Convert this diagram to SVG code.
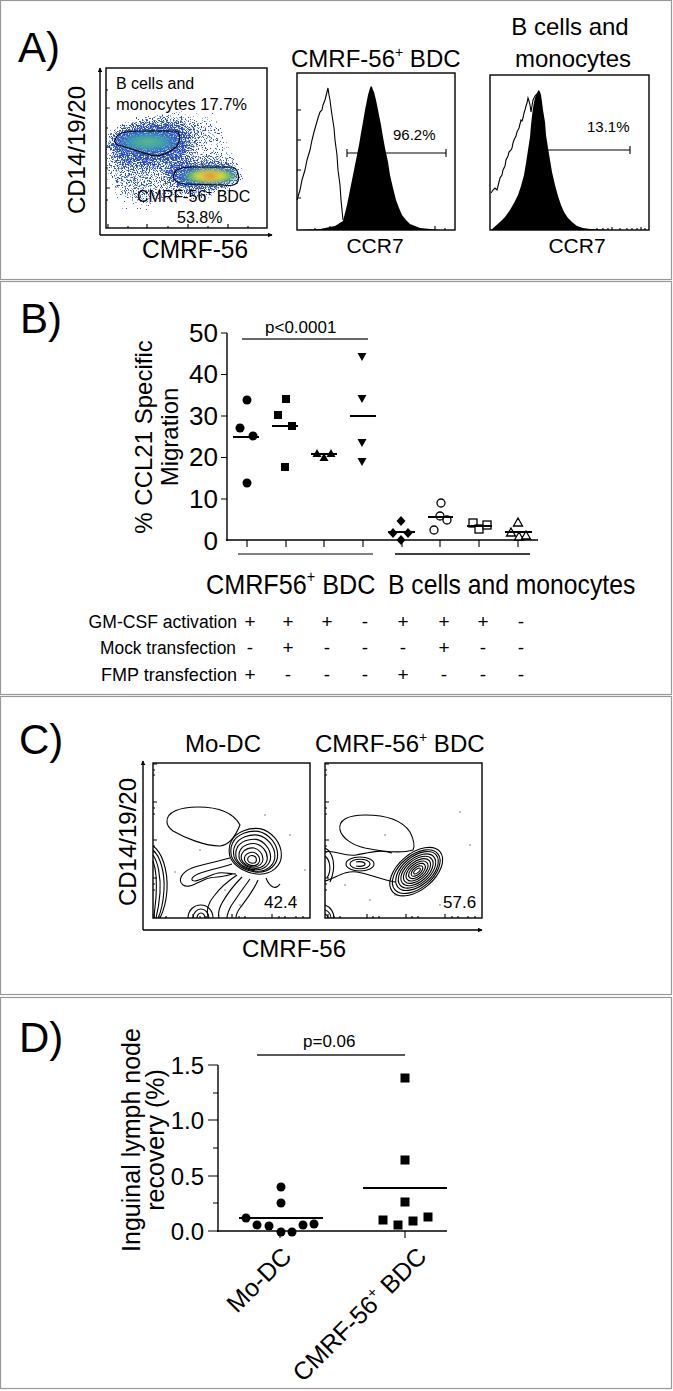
<svg xmlns="http://www.w3.org/2000/svg" width="673" height="1391" viewBox="0 0 673 1391">
<defs>
<style>
text{font-family:"Liberation Sans",Arial,sans-serif;fill:#000}
.panel{fill:#fff;stroke:#999;stroke-width:1.2}
.lbl{font-size:42px}
.ax{stroke:#000;stroke-width:1.4;fill:none}
.tk{stroke:#000;stroke-width:1.1}
.c{fill:none;stroke:#000;stroke-width:1.1}
.mean{stroke:#000;stroke-width:1.8}
.box{fill:none;stroke:#000;stroke-width:1.4}
.dot{fill:#555}
</style>
<marker id="arr" viewBox="0 0 8 8" refX="7" refY="4" markerWidth="5" markerHeight="5" orient="auto" markerUnits="userSpaceOnUse"><path d="M0,0 L8,4 L0,8 Z" fill="#000"/></marker>
<filter id="spk" filterUnits="userSpaceOnUse" x="106" y="68" width="161" height="160">
<feGaussianBlur in="SourceAlpha" stdDeviation="7" result="d"/>
<feTurbulence type="fractalNoise" baseFrequency="0.75" numOctaves="2" seed="7" result="t"/>
<feColorMatrix in="t" type="matrix" values="0 0 0 0 0  0 0 0 0 0  0 0 0 0 0  1 0 0 0 0" result="na"/>
<feComposite in="na" in2="d" operator="arithmetic" k1="0" k2="1" k3="0.65" k4="-0.6" result="cc"/>
<feComponentTransfer in="cc" result="m"><feFuncA type="discrete" tableValues="0 1"/></feComponentTransfer>
<feFlood flood-color="#2f50c0"/>
<feComposite in2="m" operator="in"/>
</filter>
<filter id="spk2" filterUnits="userSpaceOnUse" x="106" y="68" width="161" height="160">
<feGaussianBlur in="SourceAlpha" stdDeviation="7" result="d"/>
<feTurbulence type="fractalNoise" baseFrequency="0.8" numOctaves="2" seed="21" result="t"/>
<feColorMatrix in="t" type="matrix" values="0 0 0 0 0  0 0 0 0 0  0 0 0 0 0  1 0 0 0 0" result="na"/>
<feComposite in="na" in2="d" operator="arithmetic" k1="0" k2="1" k3="0.6" k4="-0.55" result="cc"/>
<feComponentTransfer in="cc" result="m"><feFuncA type="discrete" tableValues="0 1"/></feComponentTransfer>
<feFlood flood-color="#86a4e6"/>
<feComposite in2="m" operator="in"/>
</filter>
<filter id="bl" x="-30%" y="-30%" width="160%" height="160%"><feGaussianBlur stdDeviation="2"/></filter>
<radialGradient id="g1"><stop offset="0" stop-color="#62ba7a"/><stop offset="0.55" stop-color="#3aa0ae"/><stop offset="1" stop-color="#3a6cc8" stop-opacity="0.3"/></radialGradient>
<radialGradient id="g2" cx="0.55"><stop offset="0" stop-color="#e2302a"/><stop offset="0.2" stop-color="#f09a30"/><stop offset="0.4" stop-color="#e8e040"/><stop offset="0.68" stop-color="#58b860"/><stop offset="1" stop-color="#3a7cc8" stop-opacity="0.3"/></radialGradient>
<path id="tri" fill="none" stroke="#000" stroke-width="1.1" vector-effect="non-scaling-stroke" d="M-1,-0.55 C-0.8,-1 -0.2,-1.15 0.2,-1.1 C0.7,-1 1.1,-0.5 1.1,0 C1.1,0.45 0.7,0.8 0.2,0.8 C-0.3,0.8 -0.9,0.5 -1.05,0.05 C-1.1,-0.2 -1.08,-0.4 -1,-0.55 Z"/>
</defs>
<rect width="673" height="1391" fill="#fff"/>
<g id="frames">
<rect class="panel" x="0.5" y="0.5" width="671" height="279"/>
<rect class="panel" x="0.5" y="281.5" width="671" height="413"/>
<rect class="panel" x="0.5" y="696.5" width="671" height="298"/>
<rect class="panel" x="0.5" y="997.5" width="671" height="391"/>
</g>

<!-- PANEL A -->
<g id="panelA">
<text class="lbl" x="18" y="62">A)</text>
<g id="A-scatter">
<g filter="url(#spk2)">
<ellipse cx="148" cy="142" rx="45" ry="25" fill="#000"/>
<ellipse cx="205" cy="176" rx="42" ry="18" fill="#000"/>
<ellipse cx="170" cy="160" rx="70" ry="50" fill="#000" opacity="0.6"/>
<ellipse cx="130" cy="185" rx="30" ry="35" fill="#000" opacity="0.45"/>
<ellipse cx="200" cy="120" rx="40" ry="25" fill="#000" opacity="0.35"/>
</g>
<g filter="url(#spk)">
<ellipse cx="148" cy="142" rx="45" ry="25" fill="#000"/>
<ellipse cx="205" cy="176" rx="42" ry="18" fill="#000"/>
<ellipse cx="170" cy="160" rx="70" ry="50" fill="#000" opacity="0.6"/>
<ellipse cx="130" cy="185" rx="30" ry="35" fill="#000" opacity="0.45"/>
<ellipse cx="200" cy="120" rx="40" ry="25" fill="#000" opacity="0.35"/>
</g>
<ellipse cx="148" cy="142" rx="33" ry="11" fill="url(#g1)" filter="url(#bl)"/>
<ellipse cx="207" cy="176" rx="31" ry="9" fill="url(#g2)" filter="url(#bl)"/>
<path class="c" stroke-width="1.6" d="M116,138 C117,133 125,131 140,131 L176,131 C181,133 181,140 176,147 C170,152 162,156 155,156 C145,154 130,148 118,145 C114,143 114,140 116,138 Z"/>
<path class="c" stroke-width="1.6" d="M174,174 C176,169 182,167 190,167 L232,167 C237,168 240,175 238,181 C236,186 230,186 220,185 L185,184 C177,183 172,180 174,174 Z"/>
<rect class="box" x="106" y="68" width="161" height="160"/>
<path class="tk" d="M106,108 h4 M106,147 h4 M106,188 h4 M106,200 h2 M106,90 h2 M106,128 h2 M106,168 h2 M108,228 v-4 M147,228 v-4 M188,228 v-4 M228,228 v-4 M128,228 v-2 M168,228 v-2 M208,228 v-2 M248,228 v-2"/>
<line class="ax" x1="100" y1="235" x2="100" y2="68" marker-end="url(#arr)"/>
<line class="ax" x1="100" y1="235" x2="272" y2="235" marker-end="url(#arr)"/>
<text x="116" y="89" font-size="16">B cells and</text>
<text x="116" y="110" font-size="16" textLength="131" lengthAdjust="spacingAndGlyphs">monocytes 17.7%</text>
<text x="137" y="202" font-size="16">CMRF-56<tspan font-size="10" dy="-6">+</tspan><tspan dy="6"> BDC</tspan></text>
<text x="177" y="223" font-size="16">53.8%</text>
<text transform="translate(85,150) rotate(-90)" text-anchor="middle" font-size="24">CD14/19/20</text>
<text x="195" y="258" text-anchor="middle" font-size="25" textLength="106" lengthAdjust="spacingAndGlyphs">CMRF-56</text>
</g>
<g id="A-hist1">
<text x="291" y="67" font-size="24">CMRF-56<tspan font-size="14" dy="-10">+</tspan><tspan dy="10"> BDC</tspan></text>
<path fill="#000" d="M297,230 L320,229 L335,226 L343,221 L347,205 L350,190 L353,175 L356,160 L359,145 L361,133 L363,122 L365,110 L367,100 L368,95 L370,88 L371,86 L372,87 L373,90 L374,92 L376,100 L377,105 L379,115 L381,125 L383,137 L385,148 L388,162 L390,175 L393,188 L396,200 L399,208 L402,215 L406,220 L410,224 L420,228 L440,230 Z"/>
<path class="c" d="M297,200 L300,190 L302,180 L305,170 L307,160 L310,150 L312,140 L314,132 L316,125 L318,118 L320,112 L322,110 L323,105 L325,100 L326,96 L327,92 L328,88 L329,95 L330,100 L331,108 L332,115 L334,128 L335,140 L337,155 L338,170 L340,185 L341,200 L343,220"/>
<rect class="box" x="297" y="73" width="158" height="157"/>
<path class="tk" d="M297,110 h4 M297,140 h4 M297,170 h4 M297,198 h4 M330,230 v-4 M365,230 v-4 M400,230 v-4 M435,230 v-4 M315,230 v-2 M350,230 v-2 M385,230 v-2 M420,230 v-2 M445,230 v-2"/>
<path class="tk" stroke-width="1.4" d="M347,153 H446 M347,149 V157 M446,149 V157"/>
<text x="393" y="140" font-size="15">96.2%</text>
<text x="375" y="253" text-anchor="middle" font-size="21">CCR7</text>
</g>
<g id="A-hist2">
<text x="570" y="35" text-anchor="middle" font-size="24">B cells and</text>
<text x="573" y="67" text-anchor="middle" font-size="24">monocytes</text>
<path fill="#000" d="M491,230 L500,222 L505,217 L510,210 L514,203 L518,195 L521,186 L524,175 L526,163 L528,150 L530,137 L531,125 L532,116 L533,108 L534,102 L535,98 L536,95 L537,93 L538,91 L539,90 L540,92 L541,95 L542,102 L543,110 L545,122 L546,135 L548,148 L550,160 L552,172 L555,185 L558,196 L561,205 L564,212 L568,218 L572,222 L577,226 L583,228 L590,229 L610,230 Z"/>
<path class="c" d="M491,193 L493,190 L495,188 L497,190 L499,182 L500,178 L502,175 L503,170 L505,166 L506,160 L508,156 L509,152 L511,150 L512,148 L513,143 L514,140 L516,136 L517,132 L518,130 L519,128 L520,124 L521,120 L522,121 L523,118 L524,113 L525,110 L526,106 L527,103 L528,98 L529,101 L530,105 L531,112 L532,106 L533,100 L534,98 L535,96 L537,94"/>
<rect class="box" x="490" y="75" width="159" height="155"/>
<path class="tk" d="M520,230 v-3 M550,230 v-3 M580,230 v-3 M597,230 v-2 M603,230 v-2 M608,230 v-2 M612,230 v-3 M620,230 v-2 M627,230 v-2 M632,230 v-2 M637,230 v-2 M641,230 v-3 M645,230 v-2"/>
<path class="tk" stroke-width="1.4" d="M548,150 H630 M630,146 V154"/>
<text x="587" y="132" font-size="15">13.1%</text>
<text x="577" y="253" text-anchor="middle" font-size="21">CCR7</text>
</g>
</g>

<!-- PANEL B -->
<g id="panelB">
<text class="lbl" x="20" y="333">B)</text>
<g id="B-axes">
<line class="ax" x1="227" y1="333" x2="227" y2="541"/>
<line class="ax" x1="226" y1="540" x2="538" y2="540"/>
<path class="tk" stroke-width="1.4" d="M221,333 H227 M221,374.5 H227 M221,416 H227 M221,457.5 H227 M221,499 H227 M247,540 v7 M286,540 v7 M324,540 v7 M363,540 v7 M402,540 v7 M440,540 v7 M479,540 v7 M518,540 v7"/>
<g font-size="26" text-anchor="end">
<text x="218" y="342">50</text>
<text x="218" y="383">40</text>
<text x="218" y="425">30</text>
<text x="218" y="466">20</text>
<text x="218" y="508">10</text>
<text x="218" y="550">0</text>
</g>
<text transform="translate(152,437) rotate(-90)" text-anchor="middle" font-size="24">% CCL21 Specific</text>
<text transform="translate(178,437) rotate(-90)" text-anchor="middle" font-size="24">Migration</text>
</g>
<g id="B-sig">
<line x1="242" y1="339" x2="368" y2="339" stroke="#333" stroke-width="1.4"/>
<text x="265" y="333" font-size="17">p&lt;0.0001</text>
</g>
<g id="B-data">
<g fill="#000">
<circle cx="240" cy="428" r="4.5"/><circle cx="247" cy="400" r="4.5"/><circle cx="253" cy="436" r="4.5"/><circle cx="247" cy="483" r="4.5"/>
<rect x="274" y="411" width="8" height="8"/><rect x="282" y="395" width="8" height="8"/><rect x="288" y="422" width="8" height="8"/><rect x="281" y="463" width="8" height="8"/>
<path d="M317,449 l4.5,8 h-9 Z M324,453 l4.5,8 h-9 Z M331,449 l4.5,8 h-9 Z"/>
<path d="M362,361 l4.5,-8 h-9 Z M362,403 l4.5,-8 h-9 Z M362,447 l4.5,-8 h-9 Z M362,466 l4.5,-8 h-9 Z"/>
<path d="M401,516 l4.5,5 l-4.5,5 l-4.5,-5 Z M393,528 l4.5,5 l-4.5,5 l-4.5,-5 Z M408,528 l4.5,5 l-4.5,5 l-4.5,-5 Z M401,535 l4.5,5 l-4.5,5 l-4.5,-5 Z"/>
</g>
<g fill="#fff" stroke="#000" stroke-width="1.3">
<circle cx="441" cy="503" r="4"/><circle cx="440" cy="516" r="4"/><circle cx="447" cy="520" r="4"/><circle cx="434" cy="530" r="4"/>
<rect x="469" y="519" width="8" height="8"/><rect x="475" y="525" width="8" height="8"/><rect x="483" y="521" width="8" height="8"/>
<path d="M518,518 l4.5,8 h-9 Z M511,528 l4.5,8 h-9 Z M519,532 l4.5,8 h-9 Z M526,531 l4.5,8 h-9 Z"/>
</g>
<path class="mean" d="M233,437 H259 M272,426 H298 M311,454 H337 M350,416 H376 M388,532 H415 M428,517 H453 M467,526 H492 M505,532 H532"/>
</g>
<g id="B-groups">
<line x1="238" y1="554" x2="373" y2="554" stroke="#555" stroke-width="1.6"/>
<line x1="395" y1="554" x2="530" y2="554" stroke="#000" stroke-width="1.6"/>
<text transform="translate(206,594) scale(0.9,1)" font-size="28">CMRF56<tspan font-size="16" dy="-12">+</tspan><tspan dy="12"> BDC</tspan></text>
<text transform="translate(388,594) scale(0.883,1)" font-size="28">B cells and monocytes</text>
</g>
<g id="B-table" font-size="19">
<text transform="translate(237,628) scale(0.925,1)" text-anchor="end">GM-CSF activation</text>
<text transform="translate(236,654) scale(0.913,1)" text-anchor="end">Mock transfection</text>
<text transform="translate(237,681) scale(0.95,1)" text-anchor="end">FMP transfection</text>
<g text-anchor="middle">
<text x="250" y="628">+</text><text x="288" y="628">+</text><text x="327" y="628">+</text><text x="365" y="628">-</text><text x="403" y="628">+</text><text x="444" y="628">+</text><text x="483" y="628">+</text><text x="521" y="628">-</text>
<text x="250" y="654">-</text><text x="288" y="654">+</text><text x="327" y="654">-</text><text x="365" y="654">-</text><text x="403" y="654">-</text><text x="444" y="654">+</text><text x="483" y="654">-</text><text x="521" y="654">-</text>
<text x="250" y="681">+</text><text x="288" y="681">-</text><text x="327" y="681">-</text><text x="365" y="681">-</text><text x="403" y="681">+</text><text x="444" y="681">-</text><text x="483" y="681">-</text><text x="521" y="681">-</text>
</g>
</g>
</g>

<!-- PANEL C -->
<g id="panelC">
<text class="lbl" x="19" y="754">C)</text>
<text x="223" y="752" text-anchor="middle" font-size="24">Mo-DC</text>
<text x="315" y="752" font-size="24">CMRF-56<tspan font-size="14" dy="-10">+</tspan><tspan dy="10"> BDC</tspan></text>
<line class="ax" x1="143" y1="930" x2="143" y2="761" marker-end="url(#arr)"/>
<line class="ax" x1="143" y1="930" x2="482" y2="930" marker-end="url(#arr)"/>
<text transform="translate(136,842) rotate(-90)" text-anchor="middle" font-size="24">CD14/19/20</text>
<text x="294" y="957" text-anchor="middle" font-size="24">CMRF-56</text>
<g id="C-plot1">
<rect class="box" x="153" y="763" width="157" height="155"/>
<path class="tk" d="M153,764 h4 M153,802 h4 M153,840 h4 M153,878 h4 M153,770 h2 M153,775 h2 M153,808 h2 M153,814 h2 M153,846 h2 M153,852 h2 M153,884 h2 M153,890 h2 M154,918 v-4 M193,918 v-4 M232,918 v-4 M272,918 v-4 M160,918 v-2 M166,918 v-2 M200,918 v-2 M206,918 v-2 M239,918 v-2 M245,918 v-2 M279,918 v-2 M285,918 v-2 M296,918 v-2 M303,918 v-2"/>
<path class="c" d="M167,822 C166,812 180,807 198,807 C218,807 233,812 240,825 C236,835 230,845 220,846 C205,846 185,838 173,831 C169,828 167,825 167,822 Z"/>
<g fill="none">
<use href="#tri" transform="translate(252,860) scale(4)"/>
<use href="#tri" transform="translate(252,860) scale(7)"/>
<use href="#tri" transform="translate(252,859) scale(10)"/>
<use href="#tri" transform="translate(253,858) scale(13)"/>
<use href="#tri" transform="translate(253,857) scale(16)"/>
<use href="#tri" transform="translate(254,856) scale(19)"/>
<use href="#tri" transform="translate(254,855) scale(21.5)"/>
<use href="#tri" transform="translate(255,855) scale(24)"/>
</g>
<g class="c">
<path d="M230,858 C216,862 202,864 192,868 C182,872 177,880 183,885 C189,889 198,882 206,879 C214,876 222,878 232,874"/>
<path d="M232,864 C220,868 208,870 198,874 C191,877 190,881 195,881 C201,880 210,875 218,873 C225,872 230,874 236,874"/>
<path d="M237,875 C228,881 220,888 214,896 C208,903 206,910 208,918"/>
<path d="M242,877 C234,885 227,894 222,903 C218,910 218,914 219,918"/>
<path d="M250,879 C244,887 237,897 231,906 C228,912 227,916 227,918"/>
<path d="M258,880 C254,890 246,900 240,908 C237,912 236,916 236,918"/>
<path d="M266,878 C270,888 276,890 280,884"/>
<path d="M188,918 C188,910 194,905 201,905 C208,905 213,911 213,918"/>
<path d="M193,918 C193,913 197,909 201,909 C205,909 209,913 209,918"/>
<path d="M197,918 C197,915 199,913 201,913 C203,913 205,915 205,918"/>
<path d="M153,846 C162,852 168,870 167,890 C166,905 162,914 160,918"/>
<path d="M153,850 C160,856 165,872 164,890 C163,905 160,914 158,918"/>
<path d="M153,855 C158,862 161,877 160,893 C159,906 157,914 156,918"/>
<path d="M153,861 C156,869 157,882 156,897 C155,908 154,915 154,918"/>
</g>
<g class="dot"><circle cx="290" cy="835" r="0.7"/><circle cx="296" cy="900" r="0.7"/><circle cx="240" cy="905" r="0.7"/><circle cx="175" cy="872" r="0.7"/><circle cx="200" cy="850" r="0.7"/><circle cx="265" cy="815" r="0.7"/><circle cx="305" cy="870" r="0.7"/><circle cx="225" cy="890" r="0.7"/></g>
<text x="264" y="908" font-size="17">42.4</text>
</g>
<g id="C-plot2">
<rect class="box" x="325" y="763" width="157" height="155"/>
<path class="tk" d="M325,764 h4 M325,802 h4 M325,840 h4 M325,878 h4 M325,770 h2 M325,775 h2 M325,808 h2 M325,814 h2 M325,846 h2 M325,852 h2 M325,884 h2 M325,890 h2 M328,918 v-4 M367,918 v-4 M406,918 v-4 M445,918 v-4 M334,918 v-2 M340,918 v-2 M373,918 v-2 M379,918 v-2 M412,918 v-2 M418,918 v-2 M452,918 v-2 M458,918 v-2 M468,918 v-2 M475,918 v-2"/>
<path class="c" d="M340,830 C338,820 348,815 365,815 C385,815 402,820 410,832 C414,840 415,846 413,850 C400,854 380,851 365,848 C352,845 342,838 340,830 Z"/>
<g class="c" transform="rotate(-40 417 871)">
<ellipse cx="417" cy="871" rx="4" ry="1.8"/>
<ellipse cx="417" cy="871" rx="7" ry="3.6"/>
<ellipse cx="417" cy="871" rx="10" ry="5.4"/>
<ellipse cx="417" cy="871" rx="13" ry="7.2"/>
<ellipse cx="417" cy="871" rx="16" ry="9"/>
<ellipse cx="417" cy="871" rx="19" ry="10.8"/>
<ellipse cx="417" cy="871" rx="22" ry="12.6"/>
<ellipse cx="417" cy="871" rx="25" ry="14.4"/>
<ellipse cx="416" cy="871" rx="28" ry="16.2"/>
<ellipse cx="416" cy="871" rx="31" ry="18"/>
</g>
<g class="c">
<path d="M325,852 C334,849 344,857 356,855 C368,853 380,849 392,853"/>
<path d="M325,881 C335,879 344,870 357,872 C370,874 382,880 395,882"/>
<ellipse cx="360" cy="864" rx="14" ry="7"/>
<ellipse cx="360" cy="864" rx="10" ry="4.8"/>
<path d="M356,862 C360,861 365,862 365,864 C365,866 360,867 356,866"/>
<path d="M325,848 C333,852 337,866 330,882"/>
<path d="M325,856 C330,860 332,870 327,878"/>
<path d="M325,905 C331,907 334,913 334,918"/>
<path d="M325,910 C329,911 331,915 331,918"/>
<path d="M325,914 C327,915 328,917 328,918"/>
</g>
<g class="dot"><circle cx="460" cy="812" r="0.7"/><circle cx="440" cy="905" r="0.7"/><circle cx="370" cy="900" r="0.7"/><circle cx="345" cy="885" r="0.7"/><circle cx="470" cy="845" r="0.7"/><circle cx="395" cy="895" r="0.7"/><circle cx="385" cy="835" r="0.7"/></g>
<text x="443" y="908" font-size="17">57.6</text>
</g>
</g>

<!-- PANEL D -->
<g id="panelD">
<text class="lbl" x="19" y="1052">D)</text>
<g id="D-axes">
<line class="ax" x1="218" y1="1065" x2="218" y2="1232"/>
<line class="ax" x1="217" y1="1231" x2="447" y2="1231"/>
<path class="tk" stroke-width="1.4" d="M208,1065 H218 M208,1120 H218 M208,1176 H218 M208,1231 H218 M213,1093 H218 M213,1148 H218 M213,1203 H218 M280,1231 v7 M405,1231 v7"/>
<g font-size="24" text-anchor="end">
<text x="204" y="1074">1.5</text>
<text x="204" y="1129">1.0</text>
<text x="204" y="1185">0.5</text>
<text x="204" y="1240">0.0</text>
</g>
<text transform="translate(140,1140) rotate(-90)" text-anchor="middle" font-size="25">Inguinal lymph node</text>
<text transform="translate(164,1140) rotate(-90)" text-anchor="middle" font-size="25">recovery (%)</text>
<text transform="translate(293,1258) rotate(-45)" text-anchor="end" font-size="25">Mo-DC</text>
<text transform="translate(428,1258) rotate(-45)" text-anchor="end" font-size="25">CMRF-56<tspan font-size="15" dy="-10">+</tspan><tspan dy="10"> BDC</tspan></text>
</g>
<g id="D-sig">
<line x1="257" y1="1055" x2="405" y2="1055" stroke="#222" stroke-width="1.5"/>
<text x="303" y="1047" font-size="17">p=0.06</text>
</g>
<g id="D-data" fill="#000">
<circle cx="246" cy="1218" r="4.5"/><circle cx="257" cy="1225" r="4.5"/><circle cx="269" cy="1226" r="4.5"/><circle cx="281" cy="1232" r="4.5"/><circle cx="292" cy="1232" r="4.5"/><circle cx="303" cy="1225" r="4.5"/><circle cx="314" cy="1224" r="4.5"/><circle cx="281" cy="1203" r="4.5"/><circle cx="281" cy="1187" r="4.5"/>
<rect x="400.5" y="1073.5" width="9" height="9"/><rect x="400.5" y="1155.5" width="9" height="9"/><rect x="400.5" y="1197.5" width="9" height="9"/><rect x="378.5" y="1215.5" width="9" height="9"/><rect x="393.5" y="1220.5" width="9" height="9"/><rect x="408.5" y="1216.5" width="9" height="9"/><rect x="423.5" y="1212.5" width="9" height="9"/>
<path class="mean" stroke-width="1.6" stroke="#333" d="M239,1218 H323 M363,1188 H447"/>
</g>
</g>
</svg>
